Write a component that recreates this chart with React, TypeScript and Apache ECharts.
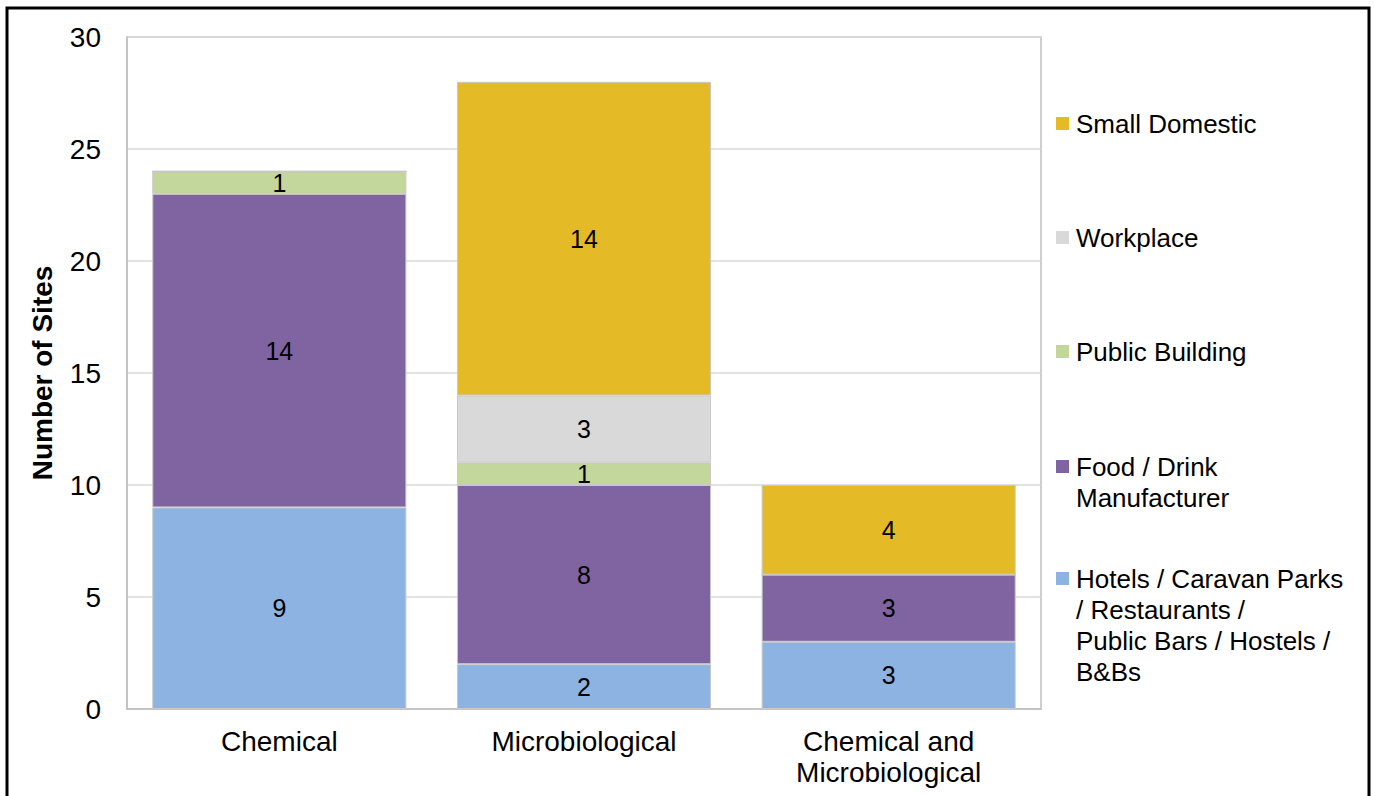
import React, { useEffect, useRef } from "react";
import * as echarts from "echarts";

const categories = ["Chemical", "Microbiological", "Chemical and\nMicrobiological"];
const seriesNames = [
  "Hotels / Caravan Parks / Restaurants / Public Bars / Hostels / B&Bs",
  "Food / Drink Manufacturer",
  "Public Building",
  "Workplace",
  "Small Domestic",
];
const legendLines = [
  ["Hotels / Caravan Parks", "/ Restaurants /", "Public Bars / Hostels /", "B&Bs"],
  ["Food / Drink", "Manufacturer"],
  ["Public Building"],
  ["Workplace"],
  ["Small Domestic"],
];
const hotels = [9, 2, 3];
const food = [14, 8, 3];
const publicBuilding = [1, 1, 0];
const workplace = [0, 3, 0];
const smallDomestic = [0, 14, 4];
const seriesValues = [hotels, food, publicBuilding, workplace, smallDomestic];
const colors = ["#8DB3E2", "#8064A2", "#C3D69B", "#D9D9D9", "#E5BA27"];
const yTicks = { min: 0, max: 30, interval: 5 };

const FONT = "'Liberation Sans', Arial, sans-serif";

export default function App() {
  const ref = useRef<HTMLDivElement>(null);
  useEffect(() => {
    if (!ref.current) return;
    const chart = echarts.init(ref.current, undefined, { renderer: "svg" });

    // legend drawn top (Small Domestic) to bottom (Hotels)
    const legendTop = [124, 238, 352, 467, 579];
    const legendOrder = [4, 3, 2, 1, 0];
    const lineH = 31;
    const legendGraphics: any[] = [];
    legendOrder.forEach((si, k) => {
      const y = legendTop[k];
      legendGraphics.push({
        type: "rect",
        shape: { x: 1056, y: y - 7, width: 13, height: 13 },
        style: { fill: colors[si] },
        silent: true,
      });
      legendLines[si].forEach((ln, j) => {
        legendGraphics.push({
          type: "text",
          x: 1076,
          y: y + j * lineH,
          style: {
            text: ln,
            font: `26px ${FONT}`,
            fill: "#000",
            textVerticalAlign: "middle",
            textAlign: "left",
          },
          silent: true,
        });
      });
    });

    chart.setOption({
      animation: false,
      backgroundColor: "#fff",
      grid: {
        left: 127,
        right: 334,
        top: 37,
        bottom: 87,
        show: true,
        borderColor: "#BFBFBF",
        borderWidth: 1.5,
      },
      xAxis: {
        type: "category",
        data: categories,
        axisLine: { show: true, lineStyle: { color: "#BFBFBF", width: 1.5 } },
        axisTick: { show: false },
        axisLabel: {
          color: "#000",
          fontFamily: FONT,
          fontSize: 28,
          margin: 17,
          lineHeight: 31,
        },
      },
      yAxis: {
        type: "value",
        min: yTicks.min,
        max: yTicks.max,
        interval: yTicks.interval,
        name: "Number of Sites",
        nameLocation: "middle",
        nameGap: 71,
        nameTextStyle: {
          color: "#000",
          fontFamily: FONT,
          fontSize: 28,
          fontWeight: "bold",
        },
        axisLine: { show: true, lineStyle: { color: "#BFBFBF", width: 1.5 } },
        axisTick: { show: false },
        splitLine: { lineStyle: { color: "#D9D9D9", width: 1.5 } },
        axisLabel: {
          color: "#000",
          fontFamily: FONT,
          fontSize: 28,
          margin: 26,
        },
      },
      series: seriesNames.map((name, i) => ({
        name,
        type: "bar",
        stack: "total",
        barWidth: "83.4%",
        data: seriesValues[i],
        itemStyle: {
          color: colors[i],
          borderColor: "#C8C8C8",
          borderWidth: 1,
        },
        label: {
          show: true,
          position: "inside",
          color: "#000",
          fontFamily: FONT,
          fontSize: 25,
          formatter: (p: any) => (p.value ? String(p.value) : ""),
        },
      })),
      graphic: [
        ...legendGraphics,
        {
          type: "polyline",
          shape: { points: [[7, 800], [7, 8], [1369, 8], [1369, 800]] },
          style: { stroke: "#000", lineWidth: 3, fill: "none" },
          silent: true,
        },
      ],
    });
    return () => chart.dispose();
  }, []);
  return (
    <div
      ref={ref}
      style={{ position: "fixed", left: 0, top: 0, width: 1375, height: 796 }}
    />
  );
}
